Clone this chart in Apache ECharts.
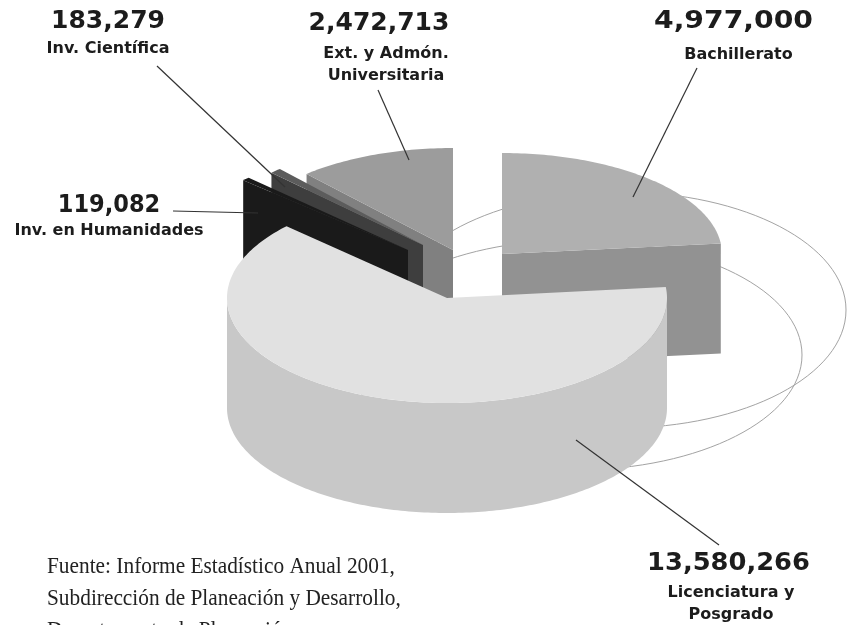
<!DOCTYPE html>
<html>
<head>
<meta charset="utf-8">
<title>Presupuesto</title>
<style>
html,body{margin:0;padding:0;background:#fff;overflow:hidden}
#chart{width:847px;height:625px}
</style>
<script src="https://cdn.jsdelivr.net/npm/echarts@6/dist/echarts.min.js"></script>
</head>
<body>
<div id="chart"></div>
<script>
// valores, en el sentido de las agujas del reloj desde las 12
var categories = ['Bachillerato', 'Licenciatura y\nPosgrado', 'Inv. en Humanidades', 'Inv. Científica', 'Ext. y Admón.\nUniversitaria'];
var values = [4977000, 13580266, 119082, 183279, 2472713];
var sourceLines = ['Fuente: Informe Estadístico Anual 2001,', 'Subdirección de Planeación y Desarrollo,', 'Departamento de Planeación'];

// estilo de cada rebanada
var apex = [[502, 254], [447, 298], [408, 250], [423, 245], [453, 250]];
var radiusX = [220, 220, 226, 215, 220];
var radiusY = [101, 105, 102, 102, 102];
var topColor = ['#b0b0b0', '#e1e1e1', '#1a1a1a', '#5c5c5c', '#9c9c9c'];
var wallColor = ['#929292', '#c8c8c8', '#1a1a1a', '#3e3e3e', '#808080'];
var paintOrder = [4, 5, 3, 2, 1];
var DEPTH = 110;

// posicion de los textos: numero [x, y], nombre [x, y]
var numberPos = [[733.5, 21], [728.5, 563], [109, 205], [108, 21], [379, 23]];
var namePos = [[738.5, 55], [731, 604], [109, 231], [108, 49], [386, 65]];
var numberScale = [1.13, 1.03, 0.9, 1, 1];
var leaders = [[697, 68, 633, 197], [719, 545, 576, 440], [173, 211, 258, 213], [157, 66, 285, 187], [378, 90, 409, 160]];
var rings = [[620, 310, 226, 118], [575, 355, 227, 115]];

var total = values.reduce(function(a, b) { return a + b; }, 0);

function rim(i, deg, drop) {
	var r = deg * Math.PI / 180;
	return [apex[i][0] + radiusX[i] * Math.cos(r), apex[i][1] - radiusY[i] * Math.sin(r) + (drop || 0)];
}

function arc(i, from, to, drop) {
	var pts = [], n = Math.max(2, Math.ceil(Math.abs(to - from)));
	for (var k = 0; k <= n; k++) {
		pts.push(rim(i, from + (to - from) * k / n, drop));
	}
	return pts;
}

function wall(i, deg) {
	var a = apex[i], e = rim(i, deg);
	return [a, e, [e[0], e[1] + DEPTH], [a[0], a[1] + DEPTH]];
}

function renderSlice(params, api) {
	var i = params.dataIndex;
	var before = 0;
	for (var k = 0; k < i; k++) before += values[k];
	// angulos reales salen del valor
	var a2 = 90 - before / total * 360;
	var a1 = a2 - api.value(0) / total * 360;
	var children = [];
	var z = paintOrder[i] * 10;

	// paredes de corte que miran al observador
	if (Math.sin((a1 - 90) * Math.PI / 180) < -0.01) {
		children.push({type: 'polygon', z2: z, shape: {points: wall(i, a1)}, style: {fill: wallColor[i]}});
	}
	if (Math.sin((a2 + 90) * Math.PI / 180) < -0.01) {
		children.push({type: 'polygon', z2: z, shape: {points: wall(i, a2)}, style: {fill: wallColor[i]}});
	}
	// pared exterior, solo la parte delantera
	var wFrom = Math.max(a1, -180), wTo = Math.min(a2, 0);
	if (wTo > wFrom) {
		var front = arc(i, wFrom, wTo, 0).concat(arc(i, wTo, wFrom, DEPTH));
		children.push({type: 'polygon', z2: z + 1, shape: {points: front}, style: {fill: wallColor[i]}});
	}
	// cara superior
	var face = [apex[i]].concat(arc(i, a1, a2, 0));
	children.push({type: 'polygon', z2: z + 2, shape: {points: face}, style: {fill: topColor[i]}});
	return {type: 'group', children: children};
}

function renderRing(params, api) {
	var r = rings[params.dataIndex];
	return {
		type: 'ellipse',
		shape: {cx: r[0], cy: r[1], rx: r[2], ry: r[3]},
		style: {fill: 'none', stroke: '#a3a3a3', lineWidth: 1}
	};
}

var graphics = [];
leaders.forEach(function(l) {
	graphics.push({
		type: 'line', z: 20, silent: true,
		shape: {x1: l[0], y1: l[1], x2: l[2], y2: l[3]},
		style: {stroke: '#333', lineWidth: 1.2}
	});
});
categories.forEach(function(name, i) {
	graphics.push({
		type: 'text', z: 20, silent: true, x: numberPos[i][0], y: numberPos[i][1], scaleX: numberScale[i],
		style: {
			text: values[i].toLocaleString('en-US'), align: 'center', verticalAlign: 'middle',
			font: 'bold 25px "DejaVu Sans"', fill: '#1c1c1c'
		}
	});
	graphics.push({
		type: 'text', z: 20, silent: true, x: namePos[i][0], y: namePos[i][1],
		style: {
			text: name, align: 'center', verticalAlign: 'middle', lineHeight: 22,
			font: 'bold 16px "DejaVu Sans"', fill: '#1c1c1c'
		}
	});
});
sourceLines.forEach(function(line, i) {
	graphics.push({
		type: 'text', z: 20, silent: true, x: 47, y: 567 + i * 32, scaleX: 0.928,
		style: {text: line, align: 'left', verticalAlign: 'middle', font: '23px "Liberation Serif"', fill: '#222'}
	});
});

var myChart = echarts.init(document.getElementById('chart'), null, {renderer: 'canvas'});
myChart.setOption({
	animation: false,
	backgroundColor: '#fff',
	graphic: graphics,
	series: [{
		type: 'custom',
		coordinateSystem: 'none',
		silent: true,
		z: 1,
		data: rings.map(function(r, i) { return [i]; }),
		renderItem: renderRing
	}, {
		type: 'custom',
		coordinateSystem: 'none',
		silent: true,
		z: 2,
		data: values.map(function(v) { return [v]; }),
		renderItem: renderSlice
	}]
});
</script>
</body>
</html>
